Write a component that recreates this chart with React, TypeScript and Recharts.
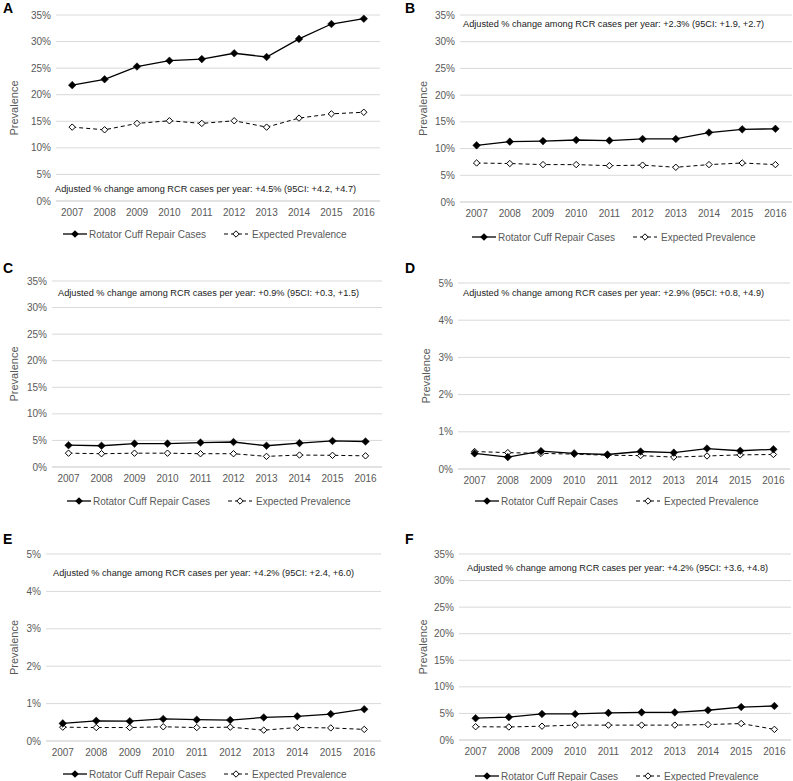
import { LineChart, Line, XAxis, YAxis, CartesianGrid, Legend, Label } from 'recharts'

const YEARS = ['2007', '2008', '2009', '2010', '2011', '2012', '2013', '2014', '2015', '2016']

// prevalence in percent
const RCR_A = [21.8, 22.9, 25.3, 26.4, 26.7, 27.8, 27.1, 30.5, 33.3, 34.3]
const EXP_A = [13.9, 13.4, 14.6, 15.1, 14.6, 15.1, 13.9, 15.6, 16.4, 16.7]
const RCR_B = [10.6, 11.3, 11.4, 11.6, 11.5, 11.8, 11.8, 13.0, 13.6, 13.7]
const EXP_B = [7.3, 7.2, 7.0, 7.0, 6.8, 6.9, 6.5, 7.0, 7.3, 7.0]
const RCR_C = [4.1, 4.0, 4.4, 4.4, 4.6, 4.7, 4.0, 4.5, 4.9, 4.8]
const EXP_C = [2.6, 2.5, 2.6, 2.6, 2.5, 2.5, 2.0, 2.25, 2.2, 2.1]
const RCR_D = [0.42, 0.32, 0.48, 0.42, 0.39, 0.47, 0.44, 0.55, 0.49, 0.53]
const EXP_D = [0.47, 0.44, 0.42, 0.4, 0.37, 0.36, 0.32, 0.35, 0.38, 0.39]
const RCR_E = [0.47, 0.54, 0.53, 0.59, 0.57, 0.56, 0.63, 0.66, 0.72, 0.85]
const EXP_E = [0.37, 0.36, 0.36, 0.38, 0.36, 0.37, 0.29, 0.36, 0.35, 0.31]
const RCR_F = [4.1, 4.3, 4.9, 4.9, 5.1, 5.2, 5.2, 5.6, 6.2, 6.4]
const EXP_F = [2.5, 2.45, 2.6, 2.8, 2.8, 2.8, 2.8, 2.9, 3.1, 2.0]

const TICKS_35 = [0, 5, 10, 15, 20, 25, 30, 35]
const TICKS_5 = [0, 1, 2, 3, 4, 5]

const NOTE_A = 'Adjusted % change among RCR cases per year: +4.5% (95CI: +4.2, +4.7)'
const NOTE_B = 'Adjusted % change among RCR cases per year: +2.3% (95CI: +1.9, +2.7)'
const NOTE_C = 'Adjusted % change among RCR cases per year: +0.9% (95CI: +0.3, +1.5)'
const NOTE_D = 'Adjusted % change among RCR cases per year: +2.9% (95CI: +0.8, +4.9)'
const NOTE_E = 'Adjusted % change among RCR cases per year: +4.2% (95CI: +2.4, +6.0)'
const NOTE_F = 'Adjusted % change among RCR cases per year: +4.2% (95CI: +3.6, +4.8)'

const FONT = '"Liberation Sans", Arial, sans-serif'
const GREY = '#595959'
const GRID = '#d9d9d9'

interface PanelSpec {
  letter: string
  rcr: number[]
  exp: number[]
  ticks: number[]
  note: string
  col: number
  plotL: number
  plotR: number
  plotT: number
  plotB: number
  legendX: number
  legendY: number
  noteX: number
  noteY: number
  labelX: number
  letterY: number
}

const PANELS: PanelSpec[] = [
  { letter: 'A', rcr: RCR_A, exp: EXP_A, ticks: TICKS_35, note: NOTE_A, col: 0, plotL: 56, plotR: 380, plotT: 15, plotB: 201, legendX: 63, legendY: 234, noteX: 55, noteY: 189, labelX: 14.5, letterY: 13 },
  { letter: 'B', rcr: RCR_B, exp: EXP_B, ticks: TICKS_35, note: NOTE_B, col: 400, plotL: 460, plotR: 792, plotT: 15, plotB: 202, legendX: 472, legendY: 237, noteX: 463, noteY: 24, labelX: 423, letterY: 13 },
  { letter: 'C', rcr: RCR_C, exp: EXP_C, ticks: TICKS_35, note: NOTE_C, col: 0, plotL: 52, plotR: 382, plotT: 281, plotB: 467, legendX: 67, legendY: 501, noteX: 58, noteY: 293, labelX: 14.5, letterY: 273 },
  { letter: 'D', rcr: RCR_D, exp: EXP_D, ticks: TICKS_5, note: NOTE_D, col: 400, plotL: 458, plotR: 790, plotT: 283, plotB: 469, legendX: 475, legendY: 501, noteX: 463, noteY: 293, labelX: 426, letterY: 273 },
  { letter: 'E', rcr: RCR_E, exp: EXP_E, ticks: TICKS_5, note: NOTE_E, col: 0, plotL: 46, plotR: 381, plotT: 554, plotB: 741, legendX: 63, legendY: 774, noteX: 53, noteY: 573, labelX: 14.5, letterY: 544 },
  { letter: 'F', rcr: RCR_F, exp: EXP_F, ticks: TICKS_35, note: NOTE_F, col: 400, plotL: 459, plotR: 791, plotT: 554, plotB: 740, legendX: 475, legendY: 776, noteX: 467, noteY: 568, labelX: 423, letterY: 544 },
]

function diamond(cx: number, cy: number, r: number) {
  return `${cx},${cy - r} ${cx + r},${cy} ${cx},${cy + r} ${cx - r},${cy}`
}

function FilledDot(props: any) {
  const { cx, cy } = props
  if (cx == null || cy == null) return null
  return <polygon points={diamond(cx, cy, 3.8)} fill="#000" stroke="#000" strokeWidth={0.5} />
}

function HollowDot(props: any) {
  const { cx, cy } = props
  if (cx == null || cy == null) return null
  return <polygon points={diamond(cx, cy, 3.2)} fill="#fff" stroke="#000" strokeWidth={1} />
}

function LegendBox() {
  return (
    <div style={{ display: 'flex', alignItems: 'center', height: 20, fontFamily: FONT, fontSize: 10, color: GREY, whiteSpace: 'nowrap' }}>
      <svg width={24} height={10}>
        <line x1={0} x2={24} y1={5} y2={5} stroke="#000" strokeWidth={1.3} />
        <polygon points={diamond(12, 5, 3.8)} fill="#000" />
      </svg>
      <span style={{ marginLeft: 2 }}>Rotator Cuff Repair Cases</span>
      <svg width={24} height={10} style={{ marginLeft: 18 }}>
        <line x1={0} x2={24} y1={5} y2={5} stroke="#000" strokeWidth={1} strokeDasharray="4 3" />
        <polygon points={diamond(12, 5, 3.2)} fill="#fff" stroke="#000" />
      </svg>
      <span style={{ marginLeft: 4 }}>Expected Prevalence</span>
    </div>
  )
}

function Panel({ p }: { p: PanelSpec }) {
  const data = YEARS.map((year, i) => ({ year, rcr: p.rcr[i], exp: p.exp[i] }))
  const W = 393
  const boxTop = p.plotT - 15
  const H = p.plotB - p.plotT + 15 + 60
  const yW = p.plotL - p.col
  const right = p.col + W - p.plotR
  const half = (p.plotR - p.plotL) / 20
  const max = p.ticks[p.ticks.length - 1]

  return (
    <div style={{ position: 'absolute', left: p.col, top: boxTop, width: W, height: H }}>
      <LineChart width={W} height={H} data={data} margin={{ top: 15, right, bottom: 16, left: 0 }}>
        <CartesianGrid vertical={false} stroke={GRID} />
        <XAxis
          dataKey="year"
          height={24}
          padding={{ left: half, right: half }}
          tickLine={false}
          axisLine={{ stroke: GRID }}
          tick={{ fill: GREY, fontSize: 10, fontFamily: FONT }}
          interval={0}
        />
        <YAxis
          width={yW}
          domain={[0, max]}
          ticks={p.ticks}
          tickFormatter={(v: number) => `${v}%`}
          tickLine={false}
          axisLine={false}
          tickSize={3}
          tick={{ fill: GREY, fontSize: 10, fontFamily: FONT }}
        >
          <Label
            value="Prevalence"
            angle={-90}
            position="insideLeft"
            offset={p.labelX - p.col}
            style={{ textAnchor: 'middle', fill: GREY, fontSize: 11, fontFamily: FONT }}
          />
        </YAxis>
        <Legend
          verticalAlign="bottom"
          height={20}
          wrapperStyle={{ left: p.legendX - p.col, top: p.legendY - boxTop - 10, bottom: 'auto', width: 'auto' }}
          content={() => <LegendBox />}
        />
        <Line
          dataKey="exp"
          stroke="#000"
          strokeWidth={1}
          strokeDasharray="4 3"
          dot={<HollowDot />}
          isAnimationActive={false}
        />
        <Line
          dataKey="rcr"
          stroke="#000"
          strokeWidth={1.3}
          dot={<FilledDot />}
          isAnimationActive={false}
        />
      </LineChart>
    </div>
  )
}

export default function App() {
  return (
    <div style={{ position: 'absolute', left: 0, top: 0, width: 793, height: 781, overflow: 'hidden', background: '#fff' }}>
      {PANELS.map((p) => (
        <Panel key={p.letter} p={p} />
      ))}
      <svg width={793} height={781} style={{ position: 'absolute', left: 0, top: 0, pointerEvents: 'none' }}>
        {PANELS.map((p) => (
          <g key={p.letter} fontFamily={FONT}>
            <text x={p.col + (p.col ? 5 : 3)} y={p.letterY} fontSize={14} fontWeight="bold" fill="#000">
              {p.letter}
            </text>
            <text x={p.noteX} y={p.noteY + 3.3} fontSize={9.2} fill="#1a1a1a">
              {p.note}
            </text>
          </g>
        ))}
      </svg>
    </div>
  )
}
